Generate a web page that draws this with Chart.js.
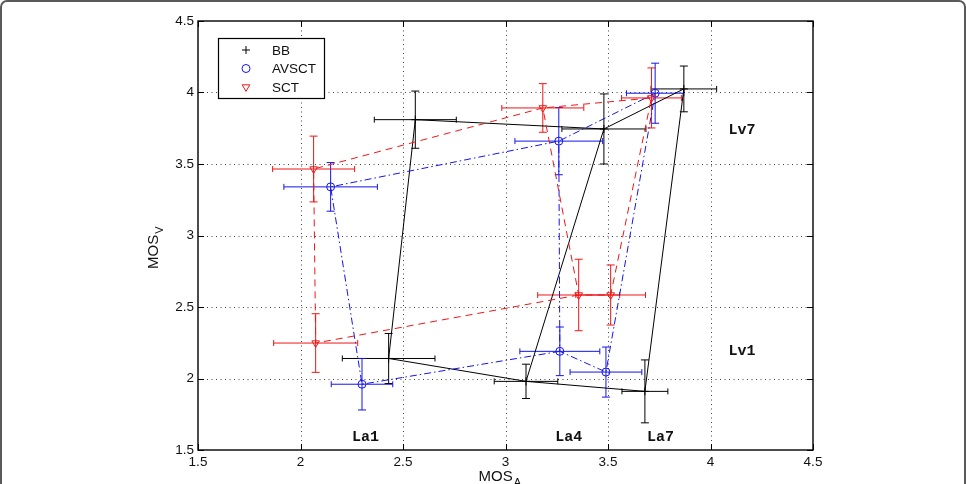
<!DOCTYPE html>
<html><head><meta charset="utf-8">
<script src="https://cdn.jsdelivr.net/npm/chart.js@4.4.1/dist/chart.umd.min.js"></script>
<style>
html,body{margin:0;padding:0;background:#fff;overflow:hidden;}
#wrap{position:relative;width:966px;height:484px;overflow:hidden;}
#frame{position:absolute;left:0;top:0;width:962px;height:540px;border:2px solid #5a5a5a;border-radius:7px;pointer-events:none;}
canvas{position:absolute;left:0;top:0;}
</style></head><body>
<div id="wrap"><canvas id="c" width="966" height="484"></canvas><div id="frame"></div></div>
<script>
// point order in every array: La1Lv1, La4Lv1, La7Lv1, La1Lv7, La4Lv7, La7Lv7
const seriesNames = ['BB', 'AVSCT', 'SCT'];

const bbA    = [2.43, 3.10, 3.68, 2.56, 3.48, 3.87];
const bbV    = [2.14, 1.98, 1.91, 3.81, 3.745, 4.025];
const bbErrA = [0.226, 0.155, 0.112, 0.20, 0.205, 0.16];
const bbErrV = [0.175, 0.12, 0.22, 0.20, 0.245, 0.16];

const avA    = [2.30, 3.265, 3.49, 2.147, 3.26, 3.73];
const avV    = [1.96, 2.19, 2.045, 3.34, 3.66, 3.995];
const avErrA = [0.15, 0.195, 0.175, 0.228, 0.214, 0.14];
const avErrV = [0.18, 0.17, 0.175, 0.17, 0.235, 0.21];

const sctA    = [2.074, 3.357, 3.513, 2.064, 3.182, 3.712];
const sctV    = [2.248, 2.584, 2.584, 3.465, 3.892, 3.962];
const sctErrA = [0.205, 0.20, 0.17, 0.20, 0.20, 0.146];
const sctErrV = [0.205, 0.25, 0.21, 0.23, 0.17, 0.21];

// grid connection path (rows Lv1/Lv7 and columns La1/La4/La7) as one continuous walk
const pathIdx = [1, 0, 3, 4, 1, 2, 5, 4];

const annotText = ['La1', 'La4', 'La7', 'Lv7', 'Lv1'];
const annotA    = [2.317, 3.308, 3.756, 4.154, 4.154];
const annotV    = [1.591, 1.591, 1.591, 3.738, 2.192];

const xTitle = 'MOS', xTitleSub = 'A';
const yTitle = 'MOS', yTitleSub = 'V';

const BLUE = 'rgb(20,20,235)';
const RED = 'rgb(238,22,22)';
const series = [
  {name: seriesNames[0], A: bbA, V: bbV, eA: bbErrA, eV: bbErrV, color: '#000', dash: [], style: 'cross', r: 4, rot: 0},
  {name: seriesNames[1], A: avA, V: avV, eA: avErrA, eV: avErrV, color: BLUE, dash: [7, 3, 1.5, 3], style: 'circle', r: 4, rot: 0},
  {name: seriesNames[2], A: sctA, V: sctV, eA: sctErrA, eV: sctErrV, color: RED, dash: [7, 5], style: 'triangle', r: 4.4, rot: 180}
];

const datasets = [];
series.forEach((s, k) => {
  datasets.push({
    label: s.name + ' line',
    data: pathIdx.map(i => ({x: s.A[i], y: s.V[i]})),
    showLine: true, borderColor: s.color, borderWidth: 1, borderDash: s.dash,
    pointRadius: 0, fill: false, tension: 0, order: 10 - k
  });
  datasets.push({
    label: s.name,
    data: s.A.map((a, i) => ({x: a, y: s.V[i]})),
    showLine: false, pointStyle: s.style, pointRadius: s.r, pointRotation: s.rot,
    borderColor: s.color, backgroundColor: 'rgba(0,0,0,0)', pointBorderWidth: 1,
    order: 5 - k
  });
});

function drawMarker(ctx, style, x, y, r, color) {
  ctx.save();
  ctx.strokeStyle = color; ctx.lineWidth = 1;
  ctx.beginPath();
  if (style === 'cross') {
    ctx.moveTo(x - r, y); ctx.lineTo(x + r, y);
    ctx.moveTo(x, y - r); ctx.lineTo(x, y + r);
  } else if (style === 'circle') {
    ctx.arc(x, y, r, 0, Math.PI * 2);
  } else {
    const h = r * Math.sqrt(3) / 2;
    ctx.moveTo(x - h, y - r / 2); ctx.lineTo(x + h, y - r / 2); ctx.lineTo(x, y + r); ctx.closePath();
  }
  ctx.stroke();
  ctx.restore();
}

const decor = {
  id: 'decor',
  beforeDatasetsDraw(chart) {
    const {ctx, chartArea: ca, scales: {x, y}} = chart;
    ctx.save();
    // dotted grid
    ctx.strokeStyle = '#444'; ctx.lineWidth = 1; ctx.setLineDash([1, 3.5]);
    x.ticks.forEach(t => {
      if (t.value <= x.min || t.value >= x.max) return;
      const px = Math.round(x.getPixelForValue(t.value)) + 0.5;
      ctx.beginPath(); ctx.moveTo(px, ca.bottom); ctx.lineTo(px, ca.top); ctx.stroke();
    });
    y.ticks.forEach(t => {
      if (t.value <= y.min || t.value >= y.max) return;
      const py = Math.round(y.getPixelForValue(t.value)) + 0.5;
      ctx.beginPath(); ctx.moveTo(ca.left, py); ctx.lineTo(ca.right, py); ctx.stroke();
    });
    ctx.setLineDash([]);
    // error bars
    series.forEach(s => {
      ctx.strokeStyle = s.color; ctx.lineWidth = 1;
      s.A.forEach((a, i) => {
        const cx = x.getPixelForValue(a), cy = y.getPixelForValue(s.V[i]);
        const x1 = x.getPixelForValue(a - s.eA[i]), x2 = x.getPixelForValue(a + s.eA[i]);
        const y1 = y.getPixelForValue(s.V[i] + s.eV[i]), y2 = y.getPixelForValue(s.V[i] - s.eV[i]);
        ctx.beginPath();
        ctx.moveTo(x1, cy); ctx.lineTo(x2, cy);
        ctx.moveTo(x1, cy - 3); ctx.lineTo(x1, cy + 3);
        ctx.moveTo(x2, cy - 3); ctx.lineTo(x2, cy + 3);
        ctx.moveTo(cx, y1); ctx.lineTo(cx, y2);
        ctx.moveTo(cx - 4, y1); ctx.lineTo(cx + 4, y1);
        ctx.moveTo(cx - 4, y2); ctx.lineTo(cx + 4, y2);
        ctx.stroke();
      });
    });
    ctx.restore();
  },
  afterDraw(chart) {
    const {ctx, chartArea: ca, scales: {x, y}} = chart;
    ctx.save();
    // frame
    ctx.strokeStyle = '#000'; ctx.lineWidth = 1.4;
    ctx.strokeRect(ca.left, ca.top, ca.right - ca.left, ca.bottom - ca.top);
    // inward ticks
    ctx.lineWidth = 1;
    ctx.beginPath();
    x.ticks.forEach(t => {
      const px = Math.round(x.getPixelForValue(t.value)) + 0.5;
      ctx.moveTo(px, ca.bottom); ctx.lineTo(px, ca.bottom - 6);
      ctx.moveTo(px, ca.top); ctx.lineTo(px, ca.top + 6);
    });
    y.ticks.forEach(t => {
      const py = Math.round(y.getPixelForValue(t.value)) + 0.5;
      ctx.moveTo(ca.left, py); ctx.lineTo(ca.left + 6, py);
      ctx.moveTo(ca.right, py); ctx.lineTo(ca.right - 6, py);
    });
    ctx.stroke();
    // annotations
    ctx.fillStyle = '#111';
    ctx.font = 'bold 15px "Liberation Mono", "Courier New", monospace';
    ctx.textAlign = 'center'; ctx.textBaseline = 'middle';
    annotText.forEach((t, i) => {
      ctx.fillText(t, x.getPixelForValue(annotA[i]), y.getPixelForValue(annotV[i]));
    });
    // legend
    const lx = ca.left + 20, ly = ca.top + 17;
    ctx.fillStyle = '#fff';
    ctx.fillRect(lx, ly, 106, 60);
    ctx.strokeStyle = '#000'; ctx.lineWidth = 1.2;
    ctx.strokeRect(lx + 0.5, ly + 0.5, 106, 60);
    ctx.font = '13.5px "Liberation Sans", Arial, sans-serif';
    ctx.textAlign = 'left'; ctx.textBaseline = 'middle';
    series.forEach((s, k) => {
      const yy = ly + 12 + k * 18.5;
      drawMarker(ctx, s.style, lx + 28, yy, s.r, s.color);
      ctx.fillStyle = '#111';
      ctx.fillText(s.name, lx + 54, yy + 1);
    });
    // axis titles
    ctx.fillStyle = '#111';
    ctx.textBaseline = 'alphabetic';
    ctx.font = '15px "Liberation Sans", Arial, sans-serif';
    const wx = ctx.measureText(xTitle).width;
    const cxm = (ca.left + ca.right) / 2;
    const sx = cxm - 27;
    ctx.fillText(xTitle, sx, 481);
    ctx.font = '11px "Liberation Sans", Arial, sans-serif';
    ctx.fillText(xTitleSub, sx + wx + 1, 486);
    // y title rotated
    ctx.save();
    ctx.translate(158, 269);
    ctx.rotate(-Math.PI / 2);
    ctx.font = '15px "Liberation Sans", Arial, sans-serif';
    const wy = ctx.measureText(yTitle).width;
    ctx.fillText(yTitle, 0, 0);
    ctx.font = '11px "Liberation Sans", Arial, sans-serif';
    ctx.fillText(yTitleSub, wy + 1, 5);
    ctx.restore();
    ctx.restore();
  }
};

const tickFont = {family: '"Liberation Sans", Arial, sans-serif', size: 13.5};
const fmt = v => String(Math.round(v * 10) / 10);
new Chart(document.getElementById('c'), {
  type: 'scatter',
  data: {datasets},
  options: {
    responsive: false, animation: false, devicePixelRatio: 1,
    layout: {padding: {left: 0, top: 21, right: 153, bottom: 0}},
    plugins: {legend: {display: false}, tooltip: {enabled: false}},
    elements: {line: {tension: 0}},
    scales: {
      x: {
        type: 'linear', min: 1.5, max: 4.5,
        ticks: {stepSize: 0.5, font: tickFont, color: '#111', padding: 4, maxRotation: 0, callback: fmt},
        grid: {display: false, drawTicks: false}, border: {display: false},
        afterFit(s) { s.height = 34; }
      },
      y: {
        type: 'linear', min: 1.5, max: 4.5,
        ticks: {stepSize: 0.5, font: tickFont, color: '#111', padding: 4, callback: fmt},
        grid: {display: false, drawTicks: false}, border: {display: false},
        afterFit(s) { s.width = 198; }
      }
    }
  },
  plugins: [decor]
});
</script>
</body></html>
